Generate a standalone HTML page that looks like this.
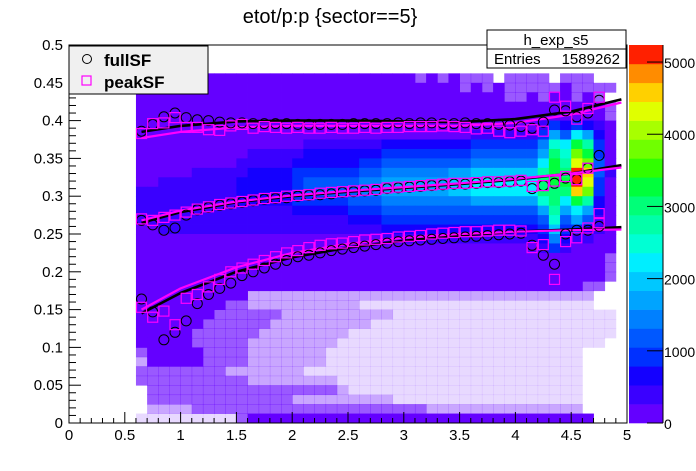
<!DOCTYPE html>
<html><head><meta charset="utf-8"><style>
html,body{margin:0;padding:0;background:#fff;}
svg{display:block;font-family:"Liberation Sans",sans-serif;}
</style></head><body>
<svg id="chart" width="696" height="471" viewBox="0 0 696 471" xmlns="http://www.w3.org/2000/svg">
<rect x="0" y="0" width="696" height="471" fill="#fff"/>
<text x="330" y="23" font-size="20" text-anchor="middle" fill="#000">etot/p:p {sector==5}</text>
<g id="heat"></g>
<g id="fits"></g>
<g id="marks"></g>
<g id="axes"></g>
<g id="cbar"></g>
<g>
<rect x="69" y="46" width="139" height="48" fill="#f0f0f0" stroke="#000" stroke-width="1"/>
<circle cx="87" cy="59" r="4.5" fill="none" stroke="#000" stroke-width="1"/>
<text x="104" y="66" font-size="17" font-weight="bold">fullSF</text>
<rect x="82" y="76" width="9" height="9" fill="none" stroke="#ff00ff" stroke-width="1.2"/>
<text x="104" y="88" font-size="17" font-weight="bold">peakSF</text>
</g>
<g>
<rect x="487" y="30" width="139" height="38" fill="#fff" stroke="#000" stroke-width="1"/>
<line x1="487" y1="49" x2="626" y2="49" stroke="#000"/>
<text x="556" y="45" font-size="15" text-anchor="middle">h_exp_s5</text>
<text x="494" y="64" font-size="15">Entries</text>
<text x="620" y="64" font-size="15" text-anchor="end">1589262</text>
</g>
</svg>
<script>
// ---- data ----
const palette = ["#6400ff","#3a00ff","#1400ff","#0030ff","#0058ff","#0080ff","#00a4ff","#00c8ff","#00eeff","#00ffd4","#00ffa8","#00ff78","#00ff3c","#30ff00","#70ff00","#a8ff00","#e0ff00","#ffd000","#ff8c00","#ff2000"];
const speckle = {":":0.65,";":0.35,",":0.15};
const heatRows = [
".......... .......... .......... .......... ...",
".......... .......... .......... .......... ...",
".......... .......... .......... .......... ...",
"0000000000 0000000000 00000:0:0: ::.::::.:: :..",
"0000000000 0000000000 000000000: 0:0:::::0: :::",
"0000000000 0000000000 0000000000 000::0:00: 0:.",
"0000000000 0000000000 0000000000 0000000000 00:",
"0000000000 0000000000 0000000000 0000000000 00:",
"0000000000 0000000000 0000000000 0000001323 210",
"0000000000 0000000000 0000000000 1111113648 620",
"0000000000 0000011111 1122222222 333333598c a30",
"0000000000 1111122222 2233333333 4444446b9e c30",
"0000000001 1111222222 3344444444 5555558cag e40",
"0000011111 2222333333 4455555566 777777acbj h41",
"0011111112 2222344444 5566666677 888888bccj g30",
"1111111112 2222344444 5566666677 888888bbbh e30",
"1111111112 2222333334 4455555555 6666669b8c a20",
"1111111111 1111222223 3344444444 4444446a68 620",
"1111111111 1111111112 2233333333 3333334946 410",
"0011111111 1111111111 1122222222 2222223733 210",
"0000000000 0000000000 0011111111 1111112521 100",
"0000000000 0000000000 0000000000 0000001310 000",
"0000000000 0000000000 0000000000 0000000000 00:",
"0000000000 0000000000 0000000000 0000000000 00:",
"0000000000 0000000000 0000000000 0000000000 00:",
"0000000000 0000000000 0000000000 0000000000 ::.",
"0000000000 ;;;;;;;;;; ;;;;;;;;;; ;;;;;;;;;; ;..",
"00000000:: ;;;;;;;;;; ,,,,,,,,,, ,,,,,,,,,, ,..",
"0000000::: :::;;;;;;; ;;;,,,,,,, ,,,,,,,,,, ,,,",
"000000:::: ::;;;;;;;; ;,,,,,,,,, ,,,,,,,,,, ,,,",
"00000::::: :;;;;;;;;, ,,,,,,,,,, ,,,,,,,,,, ,,,",
"00000::::: ;;;;;;;;,, ,,,,,,,,,, ,,,,,,,,,, ,,.",
":00000:::: ;;;;;;;,,, ,,,,,,,,,, ,,,,,,,,,, ...",
";00000:::: ;;;;;;;,,, ,,,,,,,,,, ,,,,,,,,,, ...",
"::::::::;; ;;;;;,,,,, ,,,,,,,,,, ,,,,,,,,,, ...",
":::::::::: ;;;;;;;;,, ,,,,,,,,,, ,,,,,,,,,, ...",
".::::::::: ::::::::;, ,,,,,,,,,, ,,,,,,,,,, ...",
".::::::::: ::::;;;;;; ;;;,,,,,,, ,,,,,,,,,, ...",
".;;;;::::: :::::::::: ::::::;;;; ;;;;;;;;;; ...",
",,,,,,,,,: 0000000000 0000000000 0000000000 0.."
];
const heatX0 = 0.6, heatDX = 0.1, heatDY = 0.0125;

const markerX = [0.65,0.75,0.85,0.95,1.05,1.15,1.25,1.35,1.45,1.55,1.65,1.75,1.85,1.95,2.05,2.15,2.25,2.35,2.45,2.55,2.65,2.75,2.85,2.95,3.05,3.15,3.25,3.35,3.45,3.55,3.65,3.75,3.85,3.95,4.05,4.15,4.25,4.35,4.45,4.55,4.65,4.75];
const fullUpper = [.386,.395,.405,.410,.404,.401,.400,.398,.397,.397,.396,.396,.396,.396,.395,.395,.395,.395,.395,.396,.396,.396,.396,.397,.396,.397,.397,.396,.396,.397,.396,.396,.395,.394,.392,.390,.398,.414,.413,.405,.410,.427];
const peakUpper = [.383,.396,.397,.404,.391,.391,.388,.387,.393,.395,.390,.392,.391,.390,.391,.390,.390,.391,.390,.390,.391,.390,.391,.391,.392,.392,.392,.393,.392,.391,.389,.390,.386,.384,.386,.388,.386,.431,.419,.402,.416,.431];
const fullMean = [.268,.262,.255,.258,.275,.282,.285,.288,.290,.292,.294,.296,.297,.298,.300,.301,.302,.303,.305,.306,.307,.308,.310,.311,.312,.313,.314,.315,.316,.316,.317,.318,.318,.319,.320,.310,.314,.317,.324,.322,.337,.354];
const peakMean = [.270,.268,.272,.275,.279,.283,.286,.289,.291,.293,.295,.297,.298,.300,.301,.302,.304,.305,.306,.307,.308,.309,.311,.312,.313,.314,.315,.316,.317,.317,.318,.319,.319,.320,.321,.313,.314,.320,.326,.322,.337,.277];
const fullLower = [.164,.147,.110,.120,.135,.158,.170,.178,.185,.195,.200,.205,.210,.215,.220,.222,.225,.228,.230,.232,.234,.236,.238,.240,.241,.242,.243,.244,.245,.246,.247,.248,.249,.250,.251,.235,.222,.210,.250,.255,.255,.260];
const peakLower = [.153,.140,.148,.130,.165,.170,.180,.190,.200,.205,.210,.215,.220,.225,.228,.232,.235,.237,.238,.240,.242,.243,.244,.246,.247,.248,.250,.251,.252,.253,.253,.254,.255,.255,.254,.232,.236,.190,.240,.245,.258,.265];

const fitX = [0.65,1,1.5,2,2.5,3,3.5,4,4.5,4.95];
const fullUpFit = [.385,.393,.399,.400,.400,.399,.398,.402,.412,.428];
const peakUpFit = [.377,.385,.391,.393,.393,.393,.393,.397,.408,.424];
const fullMeanFit = [.265,.279,.292,.300,.306,.311,.316,.322,.330,.341];
const peakMeanFit = [.268,.281,.293,.301,.307,.312,.317,.323,.330,.338];
const fullLowFit = [.145,.172,.200,.219,.232,.241,.248,.253,.256,.259];
const peakLowFit = [.150,.178,.206,.225,.237,.245,.250,.253,.255,.256];

const xTicks = [0,0.5,1,1.5,2,2.5,3,3.5,4,4.5,5];
const xTickLabels = ["0","0.5","1","1.5","2","2.5","3","3.5","4","4.5","5"];
const yTicks = [0,0.05,0.1,0.15,0.2,0.25,0.3,0.35,0.4,0.45,0.5];
const yTickLabels = ["0","0.05","0.1","0.15","0.2","0.25","0.3","0.35","0.4","0.45","0.5"];
const zTicks = [0,1000,2000,3000,4000,5000];
const zTickLabels = ["0","1000","2000","3000","4000","5000"];
const zMax = 5236;

// ---- axes functions ----
const PX0=69, PX1=627, PY0=423, PY1=45;
function X(v){return PX0+(v-0)/5*(PX1-PX0);}
function Y(v){return PY0-(v-0)/0.5*(PY0-PY1);}
const CB0=629, CB1=663;
function Z(v){return PY0-v/zMax*(PY0-PY1);}
const NS="http://www.w3.org/2000/svg";
function mk(tag,attrs,parent){const e=document.createElementNS(NS,tag);for(const k in attrs)e.setAttribute(k,attrs[k]);parent.appendChild(e);return e;}

// heatmap
const heat=document.getElementById('heat');
heatRows.forEach((row,i)=>{
  const s=row.replace(/ /g,'');
  const vTop=0.5-heatDY*i, vBot=0.5-heatDY*(i+1);
  for(let j=0;j<s.length;j++){
    const c=s[j]; if(c==='.')continue;
    const xa=heatX0+heatDX*j, xb=xa+heatDX;
    let fill, op=1;
    if(speckle[c]!==undefined){fill=palette[0];op=speckle[c];}
    else fill=palette[parseInt(c,36)];
    const r=mk('rect',{x:X(xa).toFixed(2),y:Y(vTop).toFixed(2),width:(X(xb)-X(xa)+0.4).toFixed(2),height:(Y(vBot)-Y(vTop)+0.4).toFixed(2),fill:fill,'fill-opacity':op},heat);
    
    
  }
});

// fits
const fits=document.getElementById('fits');
function fitLine(arr,color,w,name){
  const p=mk('polyline',{points:fitX.map((x,k)=>X(x).toFixed(1)+','+Y(arr[k]).toFixed(1)).join(' '),fill:'none',stroke:color,'stroke-width':w,'stroke-linejoin':'round'},fits);
  
  
}
fitLine(fullUpFit,'#000',2.6,'fit-fullsf-upper');
fitLine(fullMeanFit,'#000',2.6,'fit-fullsf-mean');
fitLine(fullLowFit,'#000',2.6,'fit-fullsf-lower');
fitLine(peakUpFit,'#ff00ff',2.2,'fit-peaksf-upper');
fitLine(peakMeanFit,'#ff00ff',2.2,'fit-peaksf-mean');
fitLine(peakLowFit,'#ff00ff',2.2,'fit-peaksf-lower');

// markers
const marks=document.getElementById('marks');
function circles(arr,name){arr.forEach((v,k)=>{if(v==null)return;
  const c=mk('circle',{cx:X(markerX[k]).toFixed(1),cy:Y(v).toFixed(1),r:5,fill:'none',stroke:'#000','stroke-width':1},marks);
  
  });}
function squares(arr,name){arr.forEach((v,k)=>{if(v==null)return;
  const r=mk('rect',{x:(X(markerX[k])-5).toFixed(1),y:(Y(v)-5).toFixed(1),width:10,height:10,fill:'none',stroke:'#ff00ff','stroke-width':1.2},marks);
  
  });}
circles(fullUpper,'fullsf-upper-point');circles(fullMean,'fullsf-mean-point');circles(fullLower,'fullsf-lower-point');
squares(peakUpper,'peaksf-upper-point');squares(peakMean,'peaksf-mean-point');squares(peakLower,'peaksf-lower-point');

// axes
const axes=document.getElementById('axes');
mk('rect',{x:PX0,y:PY1,width:PX1-PX0,height:PY0-PY1,fill:'none',stroke:'#000','stroke-width':1},axes);
for(let k=0;k<=50;k++){const v=k*0.1;const big=k%5===0;
  mk('line',{x1:X(v),y1:PY0,x2:X(v),y2:PY0-(big?11:5),stroke:'#000'},axes);}
for(let k=0;k<=50;k++){const v=k*0.01;const big=k%5===0;
  mk('line',{x1:PX0,y1:Y(v),x2:PX0+(big?12:7),y2:Y(v),stroke:'#000'},axes);}
xTicks.forEach((v,k)=>{const t=mk('text',{x:X(v),y:PY0+17,'font-size':15,'text-anchor':'middle'},axes);t.textContent=xTickLabels[k];
  
  });
yTicks.forEach((v,k)=>{const t=mk('text',{x:PX0-6,y:Y(v)+5,'font-size':15,'text-anchor':'end'},axes);t.textContent=yTickLabels[k];
  
  });

// color bar
const cbar=document.getElementById('cbar');
palette.forEach((col,k)=>{
  const y0=Z(zMax*(k+1)/palette.length), y1=Z(zMax*k/palette.length);
  const r=mk('rect',{x:CB0,y:y0.toFixed(2),width:CB1-CB0,height:(y1-y0+0.3).toFixed(2),fill:col},cbar);
  
  
});
mk('line',{x1:CB1,y1:PY1,x2:CB1,y2:PY0,stroke:'#000'},cbar);
zTicks.forEach((v,k)=>{
  mk('line',{x1:CB1-16,y1:Z(v),x2:CB1,y2:Z(v),stroke:'#000'},cbar);
  const t=mk('text',{x:CB1+1,y:Z(v)+6,'font-size':14},cbar);t.textContent=zTickLabels[k];
  
  
});
</script>
</body></html>
